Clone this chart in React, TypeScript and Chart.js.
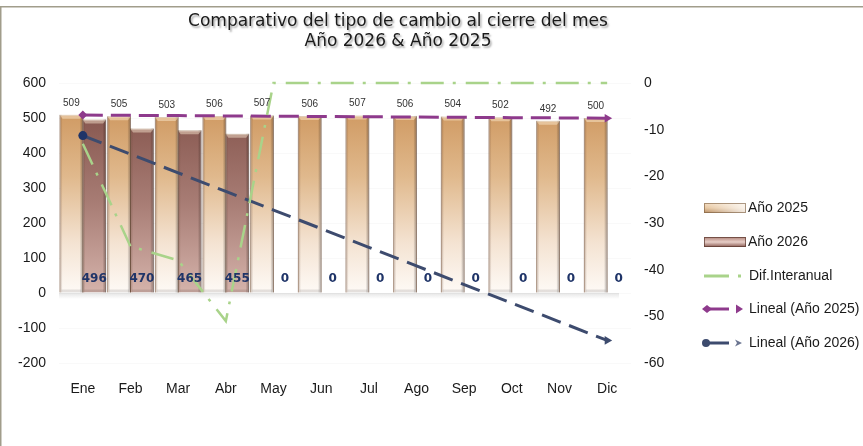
import React, { useEffect, useRef } from "react";
import { Chart, registerables } from "chart.js";

Chart.register(...registerables);

// ---------- data ----------
const months = ["Ene", "Feb", "Mar", "Abr", "May", "Jun", "Jul", "Ago", "Sep", "Oct", "Nov", "Dic"];
const anio2025 = [509, 505, 503, 506, 507, 506, 507, 506, 504, 502, 492, 500];
const anio2026 = [496, 470, 465, 455, 0, 0, 0, 0, 0, 0, 0, 0];
const difInteranual = [-13, -35, -38, -51, 0, 0, 0, 0, 0, 0, 0, 0];
const leftAxis = { min: -200, max: 600, step: 100 };
const rightAxis = { min: -60, max: 0, step: 10 };
const titleLines = ["Comparativo del tipo de cambio al cierre del mes", "Año 2026 & Año 2025"];
const legendLabels = ["Año 2025", "Año 2026", "Dif.Interanual", "Lineal (Año 2025)", "Lineal (Año 2026)"];

// Excel-style linear trendline (least squares over all points)
function linearTrend(values: number[]): number[] {
  const n = values.length;
  const xs = values.map((_, i) => i + 1);
  const mx = xs.reduce((a, b) => a + b, 0) / n;
  const my = values.reduce((a, b) => a + b, 0) / n;
  let sxy = 0, sxx = 0;
  for (let i = 0; i < n; i++) {
    sxy += (xs[i] - mx) * (values[i] - my);
    sxx += (xs[i] - mx) * (xs[i] - mx);
  }
  const slope = sxy / sxx;
  return xs.map((x) => my + slope * (x - mx));
}

const trend2025 = linearTrend(anio2025);
const trend2026 = linearTrend(anio2026);

const FONT = "'Liberation Sans', Arial, sans-serif";
const PURPLE = "#8e3a8c";
const NAVY_LINE = "#3d4b6e";
const NAVY_DOT = "#1f3468";
const GREEN = "#a9d38a";

function grad2025(ctx: CanvasRenderingContext2D, top: number, bottom: number) {
  const g = ctx.createLinearGradient(0, top, 0, bottom);
  g.addColorStop(0, "#d09b64");
  g.addColorStop(0.35, "#e0b98d");
  g.addColorStop(0.72, "#f4e3d2");
  g.addColorStop(1, "#fefaf6");
  return g;
}
function grad2026(ctx: CanvasRenderingContext2D, top: number, bottom: number) {
  const g = ctx.createLinearGradient(0, top, 0, bottom);
  g.addColorStop(0, "#87574f");
  g.addColorStop(0.5, "#a87d75");
  g.addColorStop(1, "#d5b3ab");
  return g;
}

function barBg(kind: number) {
  return (c: any) => {
    const chart = c.chart;
    if (!chart.chartArea || !chart.scales.y) return kind === 0 ? "#e2bb90" : "#aa7f77";
    const ys = chart.scales.y;
    const top = ys.getPixelForValue(510);
    const bottom = ys.getPixelForValue(0);
    return kind === 0 ? grad2025(chart.ctx, top, bottom) : grad2026(chart.ctx, top, bottom);
  };
}

const framePlugin = {
  id: "frame",
  beforeDraw(chart: any) {
    const ctx = chart.ctx as CanvasRenderingContext2D;
    ctx.save();
    ctx.fillStyle = "#ffffff";
    ctx.fillRect(0, 0, chart.width, chart.height);
    ctx.strokeStyle = "#a19d8b";
    ctx.lineWidth = 1.5;
    ctx.beginPath();
    ctx.moveTo(0, 6.75);
    ctx.lineTo(chart.width, 6.75);
    ctx.moveTo(0.75, 6);
    ctx.lineTo(0.75, chart.height);
    ctx.stroke();
    // title
    ctx.font = "17px 'DejaVu Sans', Verdana, sans-serif";
    ctx.textAlign = "center";
    ctx.textBaseline = "middle";
    ctx.shadowColor = "rgba(0,0,0,0.35)";
    ctx.shadowOffsetX = 1.5;
    ctx.shadowOffsetY = 1.5;
    ctx.shadowBlur = 2;
    ctx.fillStyle = "#1a1a1a";
    ctx.fillText(titleLines[0], 398, 22);
    ctx.fillText(titleLines[1], 398, 42);
    ctx.restore();
  },
  beforeDatasetsDraw(chart: any) {
    const ctx = chart.ctx as CanvasRenderingContext2D;
    const ys = chart.scales.y;
    const y0 = ys.getPixelForValue(0);
    const { left, right } = chart.chartArea;
    ctx.save();
    const g = ctx.createLinearGradient(0, y0, 0, y0 + 6);
    g.addColorStop(0, "rgba(0,0,0,0.10)");
    g.addColorStop(1, "rgba(0,0,0,0)");
    ctx.fillStyle = g;
    ctx.fillRect(left, y0, right - left - 12, 6);
    ctx.restore();
  },
  afterDatasetDraw(chart: any, args: any) {
    const meta = args.meta;
    if (meta.type !== "bar") return;
    const ctx = chart.ctx as CanvasRenderingContext2D;
    ctx.save();
    meta.data.forEach((bar: any) => {
      const x = bar.x, y = bar.y, base = bar.base, w = bar.width;
      const h = base - y;
      if (h < 1) return;
      const l = x - w / 2;
      const g = ctx.createLinearGradient(l, 0, l + w, 0);
      g.addColorStop(0, "rgba(90,55,35,0.38)");
      g.addColorStop(0.13, "rgba(90,55,35,0.0)");
      g.addColorStop(0.85, "rgba(0,0,0,0.0)");
      g.addColorStop(1, "rgba(60,35,25,0.42)");
      ctx.fillStyle = g;
      ctx.fillRect(l, y, w, h);
      // top bevel
      ctx.fillStyle = "rgba(255,240,215,0.45)";
      ctx.beginPath();
      ctx.moveTo(l, y);
      ctx.lineTo(l + w, y);
      ctx.lineTo(l + w - 3, y + 4);
      ctx.lineTo(l + 3, y + 4);
      ctx.closePath();
      ctx.fill();
      // bottom bevel
      ctx.fillStyle = "rgba(0,0,0,0.10)";
      ctx.fillRect(l + 2, base - 3, w - 4, 3);
    });
    ctx.restore();
  },
  afterDatasetsDraw(chart: any) {
    const ctx = chart.ctx as CanvasRenderingContext2D;
    const ys = chart.scales.y;
    const m25 = chart.getDatasetMeta(1);
    const m26 = chart.getDatasetMeta(2);
    ctx.save();
    ctx.textAlign = "center";
    ctx.textBaseline = "middle";
    ctx.font = `10px ${FONT}`;
    ctx.fillStyle = "#333333";
    m25.data.forEach((bar: any, i: number) => {
      ctx.fillText(String(anio2025[i]), bar.x, bar.y - 12);
    });
    ctx.font = "bold 12px 'DejaVu Sans', Verdana, sans-serif";
    ctx.fillStyle = "#1f3468";
    const yl = ys.getPixelForValue(0) - 14;
    m26.data.forEach((bar: any, i: number) => {
      ctx.fillText(String(anio2026[i]), bar.x, yl);
    });
    ctx.restore();
  },
  afterDraw(chart: any) {
    const ctx = chart.ctx as CanvasRenderingContext2D;
    const lx = 704;
    const tx = 748;
    const rows = [208, 242, 276, 309, 343];
    ctx.save();
    // bar symbols
    [0, 1].forEach((k) => {
      const y = rows[k];
      const g = ctx.createLinearGradient(0, y - 5, 0, y + 5);
      if (k === 0) {
        g.addColorStop(0, "#f3dcc0");
        g.addColorStop(0.5, "#e6c6a0");
        g.addColorStop(1, "#b58a5e");
      } else {
        g.addColorStop(0, "#b08379");
        g.addColorStop(0.5, "#e8cfc8");
        g.addColorStop(1, "#8a5a52");
      }
      ctx.fillStyle = g;
      ctx.fillRect(lx, y - 5, 42, 10);
      if (k === 0) {
        const g2 = ctx.createLinearGradient(lx, 0, lx + 42, 0);
        g2.addColorStop(0, "rgba(255,255,255,0)");
        g2.addColorStop(1, "rgba(255,255,255,0.8)");
        ctx.fillStyle = g2;
        ctx.fillRect(lx, y - 5, 42, 10);
      }
      ctx.strokeStyle = k === 0 ? "rgba(120,90,60,0.6)" : "rgba(90,55,45,0.7)";
      ctx.lineWidth = 1;
      ctx.strokeRect(lx + 0.5, y - 4.5, 41, 9);
    });
    // green
    ctx.strokeStyle = GREEN;
    ctx.lineWidth = 3;
    ctx.beginPath();
    ctx.moveTo(lx, rows[2]);
    ctx.lineTo(lx + 25, rows[2]);
    ctx.stroke();
    ctx.fillStyle = GREEN;
    ctx.fillRect(lx + 34, rows[2] - 1.5, 3, 3);
    // purple
    ctx.strokeStyle = PURPLE;
    ctx.fillStyle = PURPLE;
    ctx.beginPath();
    ctx.moveTo(lx + 2, rows[3]);
    ctx.lineTo(lx + 25, rows[3]);
    ctx.stroke();
    ctx.beginPath();
    ctx.moveTo(lx - 2, rows[3]);
    ctx.lineTo(lx + 3, rows[3] - 4);
    ctx.lineTo(lx + 8, rows[3]);
    ctx.lineTo(lx + 3, rows[3] + 4);
    ctx.closePath();
    ctx.fill();
    ctx.beginPath();
    ctx.moveTo(lx + 32, rows[3] - 4.5);
    ctx.lineTo(lx + 39, rows[3]);
    ctx.lineTo(lx + 32, rows[3] + 4.5);
    ctx.closePath();
    ctx.fill();
    // navy
    ctx.strokeStyle = NAVY_LINE;
    ctx.beginPath();
    ctx.moveTo(lx + 2, rows[4]);
    ctx.lineTo(lx + 25, rows[4]);
    ctx.stroke();
    ctx.fillStyle = NAVY_LINE;
    ctx.beginPath();
    ctx.arc(lx + 2, rows[4], 4, 0, Math.PI * 2);
    ctx.fill();
    ctx.fillStyle = "#6b7591";
    ctx.beginPath();
    ctx.moveTo(lx + 31, rows[4] - 3.5);
    ctx.lineTo(lx + 38, rows[4]);
    ctx.lineTo(lx + 31, rows[4] + 3.5);
    ctx.lineTo(lx + 33, rows[4]);
    ctx.closePath();
    ctx.fill();
    // texts
    ctx.font = `14px ${FONT}`;
    ctx.fillStyle = "#1a1a1a";
    ctx.textAlign = "left";
    ctx.textBaseline = "middle";
    legendLabels.forEach((t, i) => ctx.fillText(t, i < 2 ? tx : tx + 1, rows[i]));
    ctx.restore();
  },
};

const lastIdx = months.length - 1;
const endPoints = (a: any, b: any, mid: any) => months.map((_, i) => (i === 0 ? a : i === lastIdx ? b : mid));

export default function App() {
  const ref = useRef<HTMLCanvasElement | null>(null);
  useEffect(() => {
    if (!ref.current) return;
    const chart = new Chart(ref.current, {
      type: "bar",
      data: {
        labels: months,
        datasets: [
          {
            type: "line",
            label: "Dif.Interanual",
            data: difInteranual,
            yAxisID: "y1",
            borderColor: GREEN,
            borderWidth: 2.5,
            borderDash: [23, 9, 3, 10],
            pointRadius: 0,
            fill: false,
            tension: 0,
            clip: 6,
            order: 0,
          } as any,
          {
            type: "bar",
            label: "Año 2025",
            data: anio2025,
            yAxisID: "y",
            backgroundColor: barBg(0),
            borderColor: "rgba(150,110,75,0.55)",
            borderWidth: 1,
            categoryPercentage: 0.96,
            barPercentage: 1.04,
            order: 2,
          } as any,
          {
            type: "bar",
            label: "Año 2026",
            data: anio2026,
            yAxisID: "y",
            backgroundColor: barBg(1),
            borderColor: "rgba(100,65,55,0.6)",
            borderWidth: 1,
            categoryPercentage: 0.96,
            barPercentage: 1.04,
            order: 3,
          } as any,
          {
            type: "line",
            label: "Lineal (Año 2025)",
            data: trend2025,
            yAxisID: "y",
            borderColor: PURPLE,
            backgroundColor: PURPLE,
            borderWidth: 3,
            borderDash: [20, 8],
            pointRadius: endPoints(4.5, 5, 0),
            pointStyle: endPoints("rectRot", "triangle", "circle"),
            pointRotation: endPoints(0, 90, 0),
            pointBorderWidth: 0,
            fill: false,
            clip: 8,
            order: 0,
          } as any,
          {
            type: "line",
            label: "Lineal (Año 2026)",
            data: trend2026,
            yAxisID: "y",
            borderColor: NAVY_LINE,
            backgroundColor: endPoints(NAVY_DOT, NAVY_LINE, NAVY_LINE),
            borderWidth: 3,
            borderDash: [20, 9],
            pointRadius: endPoints(4.5, 5, 0),
            pointStyle: endPoints("circle", "triangle", "circle"),
            pointRotation: endPoints(0, 90, 0),
            pointBorderWidth: 0,
            fill: false,
            clip: 8,
            order: 0,
          } as any,
        ],
      },
      options: {
        responsive: false,
        animation: false,
        layout: { padding: { top: 83, left: 0, right: 0, bottom: 0 } },
        plugins: {
          legend: { display: false },
          title: { display: false },
          tooltip: { enabled: false },
        },
        scales: {
          x: {
            grid: { display: false, drawTicks: false },
            border: { display: false },
            ticks: { font: { family: FONT, size: 14 }, color: "#1a1a1a", padding: 18, maxRotation: 0 },
            afterFit: (s: any) => {
              s.height = 83;
            },
          },
          y: {
            position: "left",
            min: leftAxis.min,
            max: leftAxis.max,
            ticks: { stepSize: leftAxis.step, font: { family: FONT, size: 14 }, color: "#1a1a1a", padding: 13 },
            grid: { color: "rgba(0,0,0,0.022)", drawTicks: false },
            border: { display: false },
            afterFit: (s: any) => {
              s.width = 59;
            },
          },
          y1: {
            position: "right",
            min: rightAxis.min,
            max: rightAxis.max,
            ticks: { stepSize: rightAxis.step, font: { family: FONT, size: 14 }, color: "#1a1a1a", padding: 13 },
            grid: { display: false, drawTicks: false },
            border: { display: false },
            afterFit: (s: any) => {
              s.width = 232;
            },
          },
        },
      } as any,
      plugins: [framePlugin],
    });
    return () => chart.destroy();
  }, []);
  return (
    <div style={{ position: "absolute", left: 0, top: 0, width: 863, height: 446 }}>
      <canvas ref={ref} width={863} height={446} style={{ display: "block" }} />
    </div>
  );
}
